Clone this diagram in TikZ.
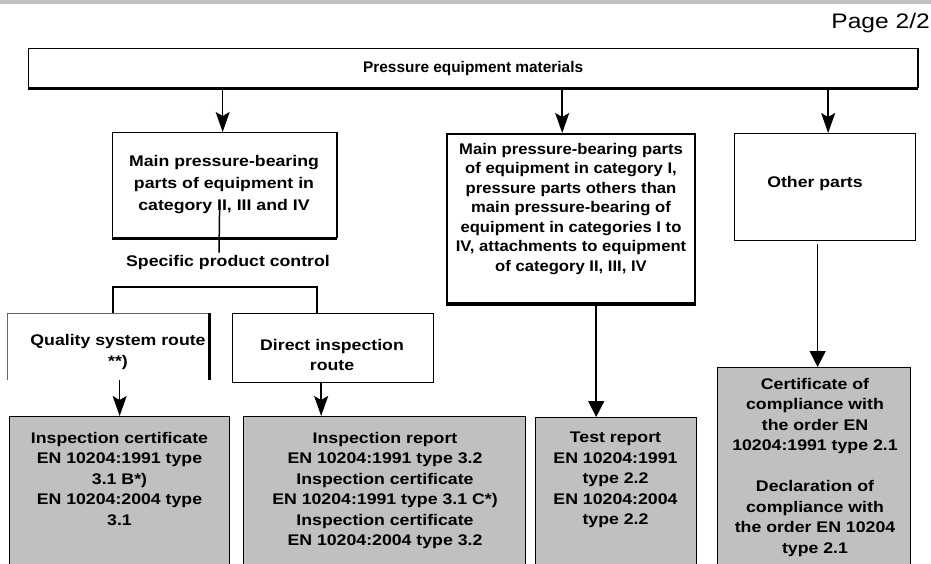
\documentclass[tikz,border=0pt]{standalone}
\usepackage{fontspec}
\setmainfont{Liberation Sans}
\newfontfamily\bxf{Liberation Sans}[FakeStretch=1.15]
\newfontfamily\bxm{Liberation Sans}[FakeStretch=1.08]
\newfontfamily\pagefnt{Liberation Sans}[FakeStretch=1.17]
\usetikzlibrary{arrows.meta}
\definecolor{silverfill}{HTML}{C0C0C0}
\begin{document}
\begin{tikzpicture}[x=1pt,y=-1pt,
  box/.style={draw, line width=1.3pt, inner sep=0pt, anchor=north west},
  gbox/.style={box, fill=silverfill},
  txt/.style={font=\bxf\bfseries\fontsize{15.4}{20.5}\selectfont, align=center, inner sep=0pt},
  txtm/.style={font=\bxm\bfseries\fontsize{15.4}{19.5}\selectfont, align=center, inner sep=0pt},
  arr/.style={line width=1.6pt, -{Stealth[length=20pt,width=14pt,inset=4pt]}},
  arrt/.style={line width=1.6pt, -{Triangle[length=16pt,width=16pt]}},
  ln/.style={line width=1.5pt}]
\useasboundingbox (0,0) rectangle (931,563);
\fill[silverfill] (0,0) rectangle (931,3.5);
\node[anchor=base east, font=\pagefnt\fontsize{21}{25}\selectfont, inner sep=0pt] (page) at (930,28) {Page 2/2};
% top box
\node[box, minimum width=889pt, minimum height=39pt, font=\bfseries\fontsize{15.4}{18}\selectfont] (top) at (28,48) {Pressure equipment materials};
\draw[line width=2.6pt] (top.south west) -- (top.south east);
\draw[line width=2.2pt] (top.north east) -- (top.south east);
% left main box
\node[box, minimum width=224pt, minimum height=105pt] (A) at (112,132) {};
\draw[line width=2.6pt] (A.south west) -- (A.south east);
\draw[line width=2pt] (A.north east) -- (A.south east);
\node[txt, font=\bxf\bfseries\fontsize{15.4}{22}\selectfont] (At) at (224,185) {Main pressure-bearing\\parts of equipment in\\category II, III and IV};
\node[txt, inner sep=3pt] (spc) at (228,263) {Specific product control};
% routes
\node[inner sep=0pt, anchor=north west, minimum width=202pt, minimum height=67pt] (Q) at (7,313) {};
\draw[line width=0.9pt, black!60] (Q.south west) -- (Q.north west) -- (Q.north east);
\draw[line width=3pt] (Q.north east) -- (Q.south east);
\node[txt] (Qt) at (118,352) {Quality system route\\**)};
\node[box, minimum width=201pt, minimum height=69pt] (D) at (232,313) {};
\node[txt] (Dt) at (332,355) {Direct inspection\\route};
% middle box
\node[box, line width=2.4pt, minimum width=248pt, minimum height=169pt] (B) at (446,133) {};
\draw[line width=3.5pt] (B.south west) -- (B.south east);
\node[txtm, anchor=north] (Bt) at (571,143) {Main pressure-bearing parts\\of equipment in category I,\\pressure parts others than\\main pressure-bearing of\\equipment in categories I to\\IV, attachments to equipment\\of category II, III, IV};
% other parts
\node[box, minimum width=181pt, minimum height=107pt] (C) at (734,133) {};
\node[txt] (Ct) at (815,184) {Other parts};
% gray result boxes
\node[gbox, minimum width=220pt, minimum height=150pt] (G1) at (9,416) {};
\node[txt, anchor=north] (G1t) at (119.5,432) {Inspection certificate\\EN 10204:1991 type\\3.1 B*)\\EN 10204:2004 type\\3.1};
\node[gbox, minimum width=282pt, minimum height=150pt] (G2) at (243,416) {};
\node[txt, anchor=north] (G2t) at (385,432) {Inspection report\\EN 10204:1991 type 3.2\\Inspection certificate\\EN 10204:1991 type 3.1 C*)\\Inspection certificate\\EN 10204:2004 type 3.2};
\node[gbox, minimum width=161pt, minimum height=149pt] (G3) at (535,417) {};
\node[txt, anchor=north] (G3t) at (615.5,432) {Test report\\EN 10204:1991\\type 2.2\\EN 10204:2004\\type 2.2};
\node[gbox, minimum width=193pt, minimum height=199pt] (G4) at (717,367) {};
\node[txt, anchor=north] (G4t) at (815,378) {Certificate of\\compliance with\\the order EN\\10204:1991 type 2.1\\[20.5pt]Declaration of\\compliance with\\the order EN 10204\\type 2.1};
% connectors
\coordinate (a1) at ([xshift=-2pt]A.north);
\draw[arr] (a1 |- top.south) -- (a1);
\coordinate (b0) at ([xshift=-9pt]B.north);
\draw[arr] (b0 |- top.south) -- (b0);
\coordinate (c0) at ([xshift=3pt]C.north);
\draw[arr] (c0 |- top.south) -- (c0);
\draw[ln] ([xshift=-5pt,yshift=34pt]A.south) -- ([xshift=-9pt]spc.north);
\coordinate (br1) at (113,287);
\coordinate (br2) at (317,287);
\draw[line width=1.3pt] (Q.north -| br1) -- (br1) -- (br2) -- (D.north -| br2);
\coordinate (q1) at (G1.north |- Q.south);
\draw[arr] (q1) -- (G1.north);
\coordinate (d1) at ([xshift=-12pt]D.south);
\draw[arr] (d1) -- (d1 |- G2.north);
\coordinate (b1) at ([xshift=25pt]B.south);
\draw[arrt] (b1) -- (b1 |- G3.north);
\coordinate (c1) at ([xshift=-7.5pt,yshift=-3pt]C.south);
\draw[arrt] (c1) -- (c1 |- G4.north);
\end{tikzpicture}
\end{document}
